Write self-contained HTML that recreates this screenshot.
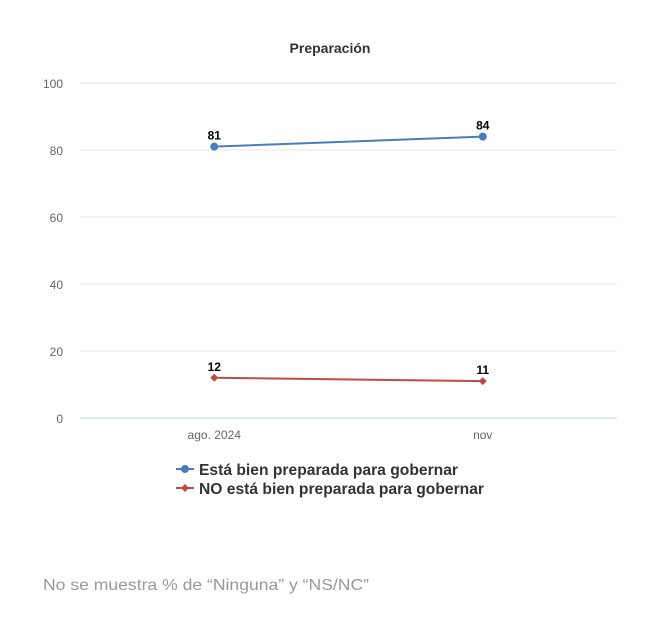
<!DOCTYPE html>
<html><head><meta charset="utf-8"><style>
body{margin:0;background:#fff;width:651px;height:620px;overflow:hidden;font-family:"Liberation Sans",sans-serif}
</style></head><body>
<svg width="651" height="620">
<text x="330" y="53" text-anchor="middle" font-size="14" font-weight="bold" fill="#333">Preparación</text>
<g id="grid"></g><g id="series"></g>
<g>
<g>
<line x1="176" x2="194" y1="469" y2="469" stroke="#4a7ebb" stroke-width="2"/><circle cx="185" cy="469" r="4" fill="#4a7ebb"/>
<text x="199" y="475" font-size="16" font-weight="bold" fill="#333" textLength="259" lengthAdjust="spacingAndGlyphs">Está bien preparada para gobernar</text></g>
<g>
<line x1="176" x2="194" y1="488" y2="488" stroke="#be4b48" stroke-width="2"/><path d="M185 484L189 488L185 492L181 488Z" fill="#be4b48"/>
<text x="199" y="494" font-size="16" font-weight="bold" fill="#333" textLength="285" lengthAdjust="spacingAndGlyphs">NO está bien preparada para gobernar</text></g>
</g>
<text x="43" y="590" font-size="16" fill="#999" textLength="326" lengthAdjust="spacingAndGlyphs">No se muestra % de “Ninguna” y “NS/NC”</text>
</svg>
<script>
const categories=["ago. 2024","nov"];
const bien=[81,84];
const no=[12,11];
const yTicks=[0,20,40,60,80,100];
const ns="http://www.w3.org/2000/svg";
const X0=80,X1=617,Y0=418,Y1=83;
const y=v=>Y0-(v/100)*(Y0-Y1);
const x=i=>X0+(i+0.5)*(X1-X0)/categories.length;
function mk(t,a,p){const e=document.createElementNS(ns,t);for(const k in a)e.setAttribute(k,a[k]);p.appendChild(e);return e;}
const g=document.getElementById('grid'),s=document.getElementById('series');
yTicks.forEach(v=>{
const l=mk('line',{x1:X0,x2:X1,y1:y(v),y2:y(v),stroke:v===0?'#c0d0e0':'#e6e6e6'},g);


const t=mk('text',{x:63,y:y(v)+5,'text-anchor':'end','font-size':12,fill:'#666'},g);t.textContent=v;


});
categories.forEach((c,i)=>{
const t=mk('text',{x:x(i),y:439,'text-anchor':'middle','font-size':12,fill:'#666'},g);t.textContent=c;


});
function series(vals,color,name,diamond){
const pl=mk('polyline',{points:vals.map((v,i)=>x(i)+','+y(v)).join(' '),fill:'none',stroke:color,'stroke-width':2},s);


vals.forEach((v,i)=>{
const cx=x(i),cy=y(v);
const m=diamond?mk('path',{d:`M${cx} ${cy-4}L${cx+4} ${cy}L${cx} ${cy+4}L${cx-4} ${cy}Z`,fill:color},s):mk('circle',{cx,cy,r:4,fill:color},s);


const t=mk('text',{x:cx,y:cy-7,'text-anchor':'middle','font-size':12,'font-weight':'bold',fill:'#000'},s);t.textContent=v;


});}
series(bien,'#4a7ebb','bien',false);
series(no,'#be4b48','no',true);
</script>
</body></html>
